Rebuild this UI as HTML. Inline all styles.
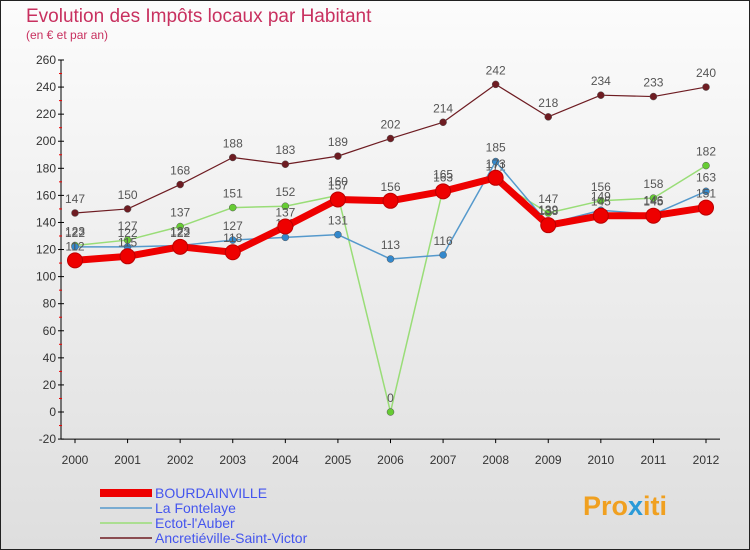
<!DOCTYPE html>
<html><head><meta charset="utf-8"><style>
body{margin:0;width:750px;height:550px;overflow:hidden;font-family:"Liberation Sans",sans-serif}
svg{display:block}
</style></head><body>
<svg id="chart" width="750" height="550" xmlns="http://www.w3.org/2000/svg">
<defs><linearGradient id="bg" x1="0" y1="0" x2="0" y2="1"><stop offset="0" stop-color="#fcfcfc"/><stop offset="1" stop-color="#dedede"/></linearGradient></defs>
<rect x="0.5" y="0.5" width="749" height="549" fill="url(#bg)" stroke="#222"/>
<text x="26" y="22" font-size="19" fill="#c8305f">Evolution des Impôts locaux par Habitant</text>
<text x="26" y="39" font-size="12" fill="#c8305f">(en € et par an)</text>
<g id="axes"></g><g id="series"></g><g id="legend"></g>
<text x="583" y="515" font-size="27" font-weight="bold" fill="#f0a020">Pro<tspan fill="#2a9ad8">x</tspan>iti</text>
</svg>
<script>
const years=[2000,2001,2002,2003,2004,2005,2006,2007,2008,2009,2010,2011,2012];
const yTicks=[-20,0,20,40,60,80,100,120,140,160,180,200,220,240,260];
const bourdainville=[112,115,122,118,137,157,156,163,173,138,145,145,151];
const laFontelaye=[122,122,123,127,129,131,113,116,185,139,149,146,163];
const ectot=[123,127,137,151,152,160,0,165,171,147,156,158,182];
const ancretieville=[147,150,168,188,183,189,202,214,242,218,234,233,240];
const seriesNames=["BOURDAINVILLE","La Fontelaye","Ectot-l'Auber","Ancretiéville-Saint-Victor"];
const NS="http://www.w3.org/2000/svg";
const X=i=>75+i*(706-75)/(years.length-1);
const Y=v=>412-v*(412-60)/260;
function mk(p,t,a){const e=document.createElementNS(NS,t);for(const k in a)e.setAttribute(k,a[k]);p.appendChild(e);return e;}
const ax=document.getElementById('axes');
const yl=mk(ax,'line',{x1:61,y1:Y(260),x2:61,y2:Y(-20),stroke:'#000'});


const xl=mk(ax,'line',{x1:61,y1:Y(-20),x2:720,y2:Y(-20),stroke:'#000'});


yTicks.forEach(v=>{
 mk(ax,'line',{x1:58,x2:64,y1:Y(v),y2:Y(v),stroke:'#000'});
 if(v<260) mk(ax,'line',{x1:59,x2:62,y1:Y(v+10),y2:Y(v+10),stroke:'#e00'});
 const t=mk(ax,'text',{x:56,y:Y(v)+4,'text-anchor':'end','font-size':12,fill:'#333'});t.textContent=v;
 
 
});
years.forEach((y,i)=>{
 mk(ax,'line',{x1:X(i),x2:X(i),y1:Y(-20),y2:Y(-20)+4,stroke:'#000'});
 const t=mk(ax,'text',{x:X(i),y:Y(-20)+25,'text-anchor':'middle','font-size':12,fill:'#333'});t.textContent=y;
 
 
});
const sg=document.getElementById('series');
const cfg=[[ancretieville,'#6e1c22',1.2,3.5,'#6e1c22'],[ectot,'#99dd77',1.5,3.5,'#66cc33'],[laFontelaye,'#5599cc',1.5,3.5,'#3388cc'],[bourdainville,'#ee0000',7,7.5,'#ee0000']];
const names=['ancretieville','ectot','la-fontelaye','bourdainville'];
cfg.forEach((c,k)=>{
 const [d,col,w,r,fc]=c;
 const g=mk(sg,'g',{});
 
 
 const pl=mk(g,'polyline',{points:d.map((v,i)=>X(i)+','+Y(v)).join(' '),fill:'none',stroke:col,'stroke-width':w,'stroke-linejoin':'round'});
 
 
 d.forEach((v,i)=>{
  const p=mk(g,'circle',{cx:X(i),cy:Y(v),r:r,fill:fc,stroke:k==3?'#b00':'#555','stroke-width':k==3?1:0.5});
  
  
  const t=mk(g,'text',{x:X(i),y:Y(v)-10,'text-anchor':'middle','font-size':12,fill:'#555'});t.textContent=v;
  
  
 });
});
const lg=document.getElementById('legend');
const lc=[['#ee0000',8],['#5599cc',1.5],['#99dd77',1.5],['#6e1c22',1.5]];
seriesNames.forEach((n,i)=>{
 const y=493+i*15;
 const g=mk(lg,'g',{});
 
 
 mk(g,'line',{x1:100,x2:152,y1:y,y2:y,stroke:lc[i][0],'stroke-width':lc[i][1]});
 const t=mk(g,'text',{x:155,y:y+5,'font-size':14,fill:'#4455ee'});t.textContent=n;
});
</script>
</body></html>
